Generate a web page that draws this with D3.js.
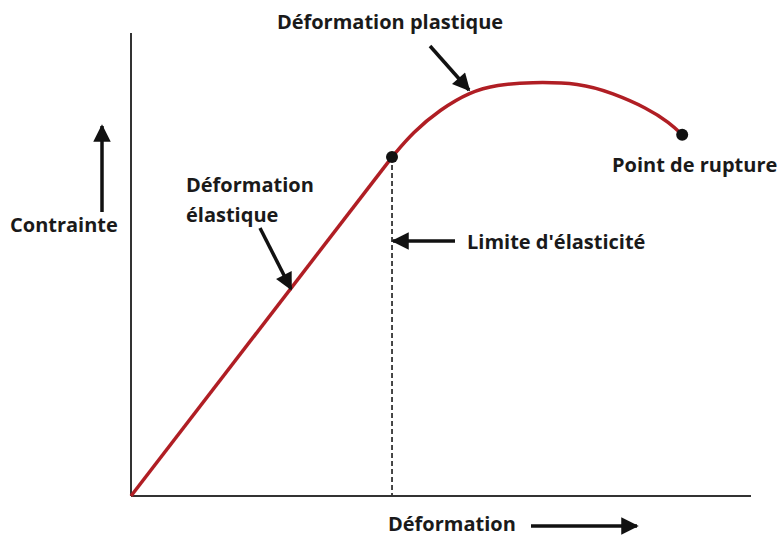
<!DOCTYPE html>
<html>
<head>
<meta charset="utf-8">
<script src="https://cdn.jsdelivr.net/npm/d3@7"></script>
<style>
  body { margin: 0; background: #fff; }
  text { font-family: "Open Sans", "DejaVu Sans", sans-serif; font-weight: 700; fill: #1a1a1a; }
</style>
</head>
<body>
<svg width="782" height="536"></svg>
<script>
// strain (%) / stress (%)
const elasticStrain = [0, 42.1];
const elasticStress = [0, 73.2];
const plasticStrain = [42.1, 45.5, 49.8, 54.7, 59.0, 64.4, 72.4, 77.7, 83.2, 86.9, 88.9];
const plasticStress = [73.2, 78.6, 83.4, 87.3, 88.8, 89.4, 89.2, 87.0, 83.8, 80.6, 78.0];
const yieldPoint = [42.1, 73.2];
const rupturePoint = [88.9, 78.0];

const labels = ["Déformation plastique", "Déformation", "élastique", "Contrainte", "Limite d'élasticité", "Point de rupture", "Déformation"];

const svg = d3.select("svg"),
  width = +svg.attr("width"),
  height = +svg.attr("height");

const x = d3.scaleLinear().domain([0, 100]).range([131, 751]);
const y = d3.scaleLinear().domain([0, 100]).range([496, 33]);

// arrow heads (long and short)
const defs = svg.append("defs");
[["headLong", 9], ["head", 7]].forEach(function(m) {
  defs.append("marker")
    .attr("id", m[0])
    .attr("viewBox", "0 0 10 10")
    .attr("refX", 9).attr("refY", 5)
    .attr("markerWidth", m[1]).attr("markerHeight", 5)
    .attr("markerUnits", "strokeWidth")
    .attr("orient", "auto")
    .append("path")
    .attr("d", "M0,0 L10,5 L0,10 Z")
    .attr("fill", "#111");
});

// axes (just two lines, no ticks)
svg.append("line")
  .attr("x1", x(0)).attr("y1", y(0)).attr("x2", x(0)).attr("y2", y(100))
  .attr("stroke", "#333").attr("stroke-width", 2);
svg.append("line")
  .attr("x1", x(0)).attr("y1", y(0)).attr("x2", x(100)).attr("y2", y(0))
  .attr("stroke", "#333").attr("stroke-width", 2);

// dashed line under the elastic limit
svg.append("line")
  .attr("x1", x(yieldPoint[0])).attr("y1", y(yieldPoint[1]))
  .attr("x2", x(yieldPoint[0])).attr("y2", y(0))
  .attr("stroke", "#333").attr("stroke-width", 1.8)
  .attr("stroke-dasharray", "5,3");

const line = d3.line().x(d => x(d[0])).y(d => y(d[1]));

svg.append("path")
  .datum(d3.zip(elasticStrain, elasticStress))
  .attr("d", line)
  .attr("fill", "none").attr("stroke", "#b01e24").attr("stroke-width", 3.5);

// smoothed plastic part
svg.append("path")
  .datum(d3.zip(plasticStrain, plasticStress))
  .attr("d", line.curve(d3.curveBasis))
  .attr("fill", "none").attr("stroke", "#b01e24").attr("stroke-width", 3.5);

[yieldPoint, rupturePoint].forEach(function(p) {
  svg.append("circle")
    .attr("cx", x(p[0])).attr("cy", y(p[1])).attr("r", 6)
    .attr("fill", "#111");
});

// labels
const labelPos = [[390, 29, "middle"], [186, 192, "start"], [186, 222, "start"], [10, 232, "start"],
                  [467, 249, "start"], [612, 172, "start"], [388, 531, "start"]];
labels.forEach(function(t, i) {
  svg.append("text")
    .attr("x", labelPos[i][0]).attr("y", labelPos[i][1])
    .attr("text-anchor", labelPos[i][2])
    .attr("font-size", 20)
    .text(t);
});

// pointer arrows
const arrows = [[430, 46, 469, 90, "head"], [260, 228, 291, 289, "head"], [102, 212, 102, 126, "headLong"],
                [455, 241, 393, 241, "head"], [531, 526, 637, 526, "headLong"]];
arrows.forEach(function(a) {
  svg.append("line")
    .attr("x1", a[0]).attr("y1", a[1]).attr("x2", a[2]).attr("y2", a[3])
    .attr("stroke", "#111").attr("stroke-width", 3.5)
    .attr("marker-end", "url(#" + a[4] + ")");
});
</script>
</body>
</html>
